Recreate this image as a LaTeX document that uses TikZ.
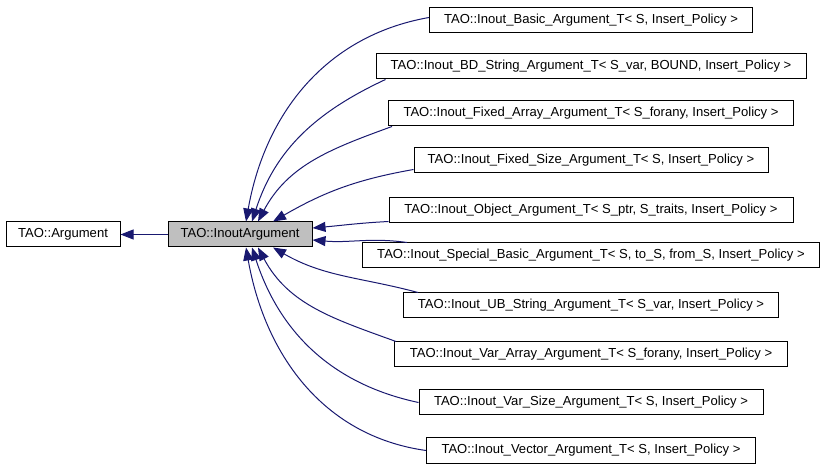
\documentclass[tikz,border=0pt]{standalone}
\usepackage{fontspec}
\setmainfont{Liberation Sans}
\usepackage{tikz}
\usetikzlibrary{arrows.meta,positioning,calc}
\definecolor{clEdge}{HTML}{191970}
\definecolor{clFocus}{HTML}{BFBFBF}
\tikzset{
  cls/.style={rectangle, draw=black, line width=0.75pt, fill=white, inner sep=0pt,
              minimum height=18.75pt, font=\fontsize{9.8}{11}\selectfont},
  focus/.style={cls, fill=clFocus},
  isa/.style={-{Triangle[length=9.75pt, width=7.5pt]}, line width=0.75pt, draw=clEdge},
}

\begin{document}
\begin{tikzpicture}[x=0.75pt, y=0.75pt]
  \useasboundingbox (0,0) rectangle (827,467);
  \node[cls, minimum width=85.5pt] (arg) at (63,232.5) {TAO::Argument};
  \node[focus, minimum width=108pt] (inout) at (240,232.5) {TAO::InoutArgument};
  \draw[isa] (inout) -- (arg);

  \node[cls, minimum width=242.25pt] (basic) at (591,446.5) {TAO::Inout\_Basic\_Argument\_T< S, Insert\_Policy >};
  \node[cls, minimum width=322.5pt] (bdstring) at (591,400.5) {TAO::Inout\_BD\_String\_Argument\_T< S\_var, BOUND, Insert\_Policy >};
  \node[cls, minimum width=303.75pt] (fixedarray) at (591,353.5) {TAO::Inout\_Fixed\_Array\_Argument\_T< S\_forany, Insert\_Policy >};
  \node[cls, minimum width=265.5pt] (fixedsize) at (591,306.5) {TAO::Inout\_Fixed\_Size\_Argument\_T< S, Insert\_Policy >};
  \node[cls, minimum width=303pt] (object) at (591,256.5) {TAO::Inout\_Object\_Argument\_T< S\_ptr, S\_traits, Insert\_Policy >};
  \node[cls, minimum width=342.75pt] (special) at (591,211.5) {TAO::Inout\_Special\_Basic\_Argument\_T< S, to\_S, from\_S, Insert\_Policy >};
  \node[cls, minimum width=281.25pt] (ubstring) at (591,161.5) {TAO::Inout\_UB\_String\_Argument\_T< S\_var, Insert\_Policy >};
  \node[cls, minimum width=294.75pt] (vararray) at (591,112.5) {TAO::Inout\_Var\_Array\_Argument\_T< S\_forany, Insert\_Policy >};
  \node[cls, minimum width=258pt] (varsize) at (591,64.5) {TAO::Inout\_Var\_Size\_Argument\_T< S, Insert\_Policy >};
  \node[cls, minimum width=246.75pt] (vector) at (591,16.5) {TAO::Inout\_Vector\_Argument\_T< S, Insert\_Policy >};

  % derived classes point back to the base
  \draw[isa] ($(basic.west)+(0,3)$) to[out=190, in=80] ($(inout.north)+(6,0)$);
  \draw[isa] ($(bdstring.south west)+(10,0)$) to[out=205, in=72] ($(inout.north)+(12,0)$);
  \draw[isa] ($(fixedarray.south west)+(4,0)$) to[out=200, in=62] ($(inout.north)+(18,0)$);
  \draw[isa] ($(fixedsize.west)+(0,-9)$) to[out=190, in=30] ($(inout.north)+(33,0)$);
  \draw[isa] ($(object.south west)+(0,2)$) to[out=183, in=5] ($(inout.east)+(0,6.5)$);
  \draw[isa] ($(special.north west)+(45,0)$) to[out=172, in=-5] ($(inout.east)+(0,-5.5)$);
  \draw[isa] ($(ubstring.north west)+(15,0)$) to[out=165, in=-30] ($(inout.south)+(33,0)$);
  \draw[isa] ($(vararray.north west)+(2,0)$) to[out=160, in=-62] ($(inout.south)+(18,0)$);
  \draw[isa] (varsize.west) to[out=168, in=-72] ($(inout.south)+(12,0)$);
  \draw[isa] (vector.west) to[out=172, in=-80] ($(inout.south)+(6,0)$);
\end{tikzpicture}
\end{document}
